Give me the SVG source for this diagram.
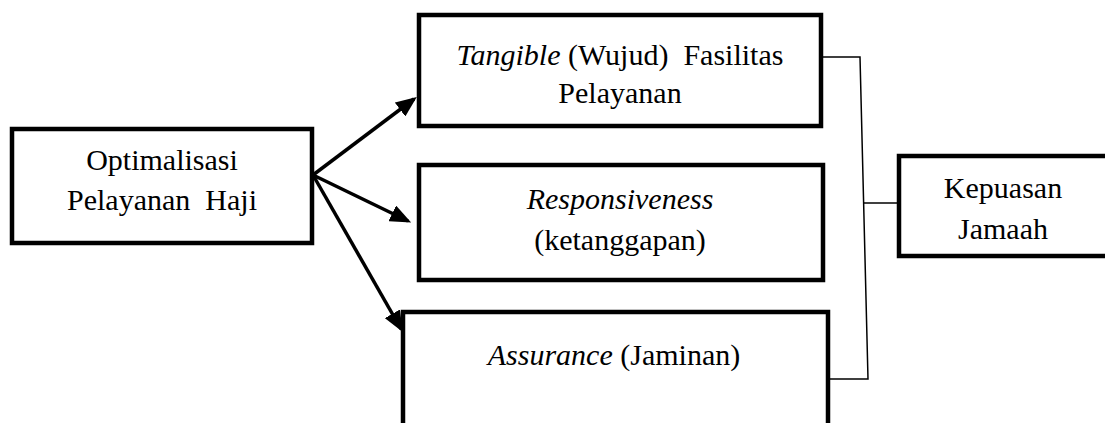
<svg xmlns="http://www.w3.org/2000/svg" width="1105" height="423" viewBox="0 0 1105 423">
<style>
.box{fill:#fff;stroke:#000;stroke-width:4.5}
.t{font-family:"Liberation Serif","Times New Roman",serif;font-size:30px;fill:#000;text-anchor:middle}
.i{font-style:italic}
.arr{stroke:#000;stroke-width:3.5;fill:none}
.thin{stroke:#000;stroke-width:1.5;fill:none}
</style>
<defs>
<marker id="ah" markerWidth="6" markerHeight="5" refX="5" refY="2.5" orient="auto" markerUnits="strokeWidth">
<path d="M0,0 L6,2.5 L0,5 Z" fill="#000"/>
</marker>
</defs>
<rect width="1105" height="423" fill="#fff"/>
<g id="connectors">
<line class="arr" x1="313" y1="175" x2="414" y2="99" marker-end="url(#ah)"/>
<line class="arr" x1="313" y1="175" x2="408" y2="221" marker-end="url(#ah)"/>
<line class="arr" x1="313" y1="175" x2="401" y2="329" marker-end="url(#ah)"/>
<polyline class="thin" points="823,57 860,57 868,379 830,379"/>
<line class="thin" x1="864" y1="203" x2="897" y2="203"/>
</g>
<g id="node-optimalisasi">
<rect class="box" x="12" y="129" width="300" height="114"/>
<text class="t" x="162" y="170">Optimalisasi</text>
<text class="t" x="162" y="210" xml:space="preserve">Pelayanan  Haji</text>
</g>
<g id="node-tangible">
<rect class="box" x="419" y="15" width="402" height="111"/>
<text class="t" x="620" y="65" xml:space="preserve"><tspan class="i">Tangible</tspan> (Wujud)  Fasilitas</text>
<text class="t" x="620" y="103">Pelayanan</text>
</g>
<g id="node-responsiveness">
<rect class="box" x="419" y="165" width="404" height="115"/>
<text class="t i" x="620" y="209">Responsiveness</text>
<text class="t" x="620" y="250">(ketanggapan)</text>
</g>
<g id="node-assurance">
<rect class="box" x="403" y="312" width="425" height="130"/>
<text class="t" x="614" y="365"><tspan class="i">Assurance</tspan> (Jaminan)</text>
</g>
<g id="node-kepuasan">
<rect class="box" x="899" y="156" width="230" height="100"/>
<text class="t" x="1003" y="198">Kepuasan</text>
<text class="t" x="1003" y="239">Jamaah</text>
</g>
</svg>
